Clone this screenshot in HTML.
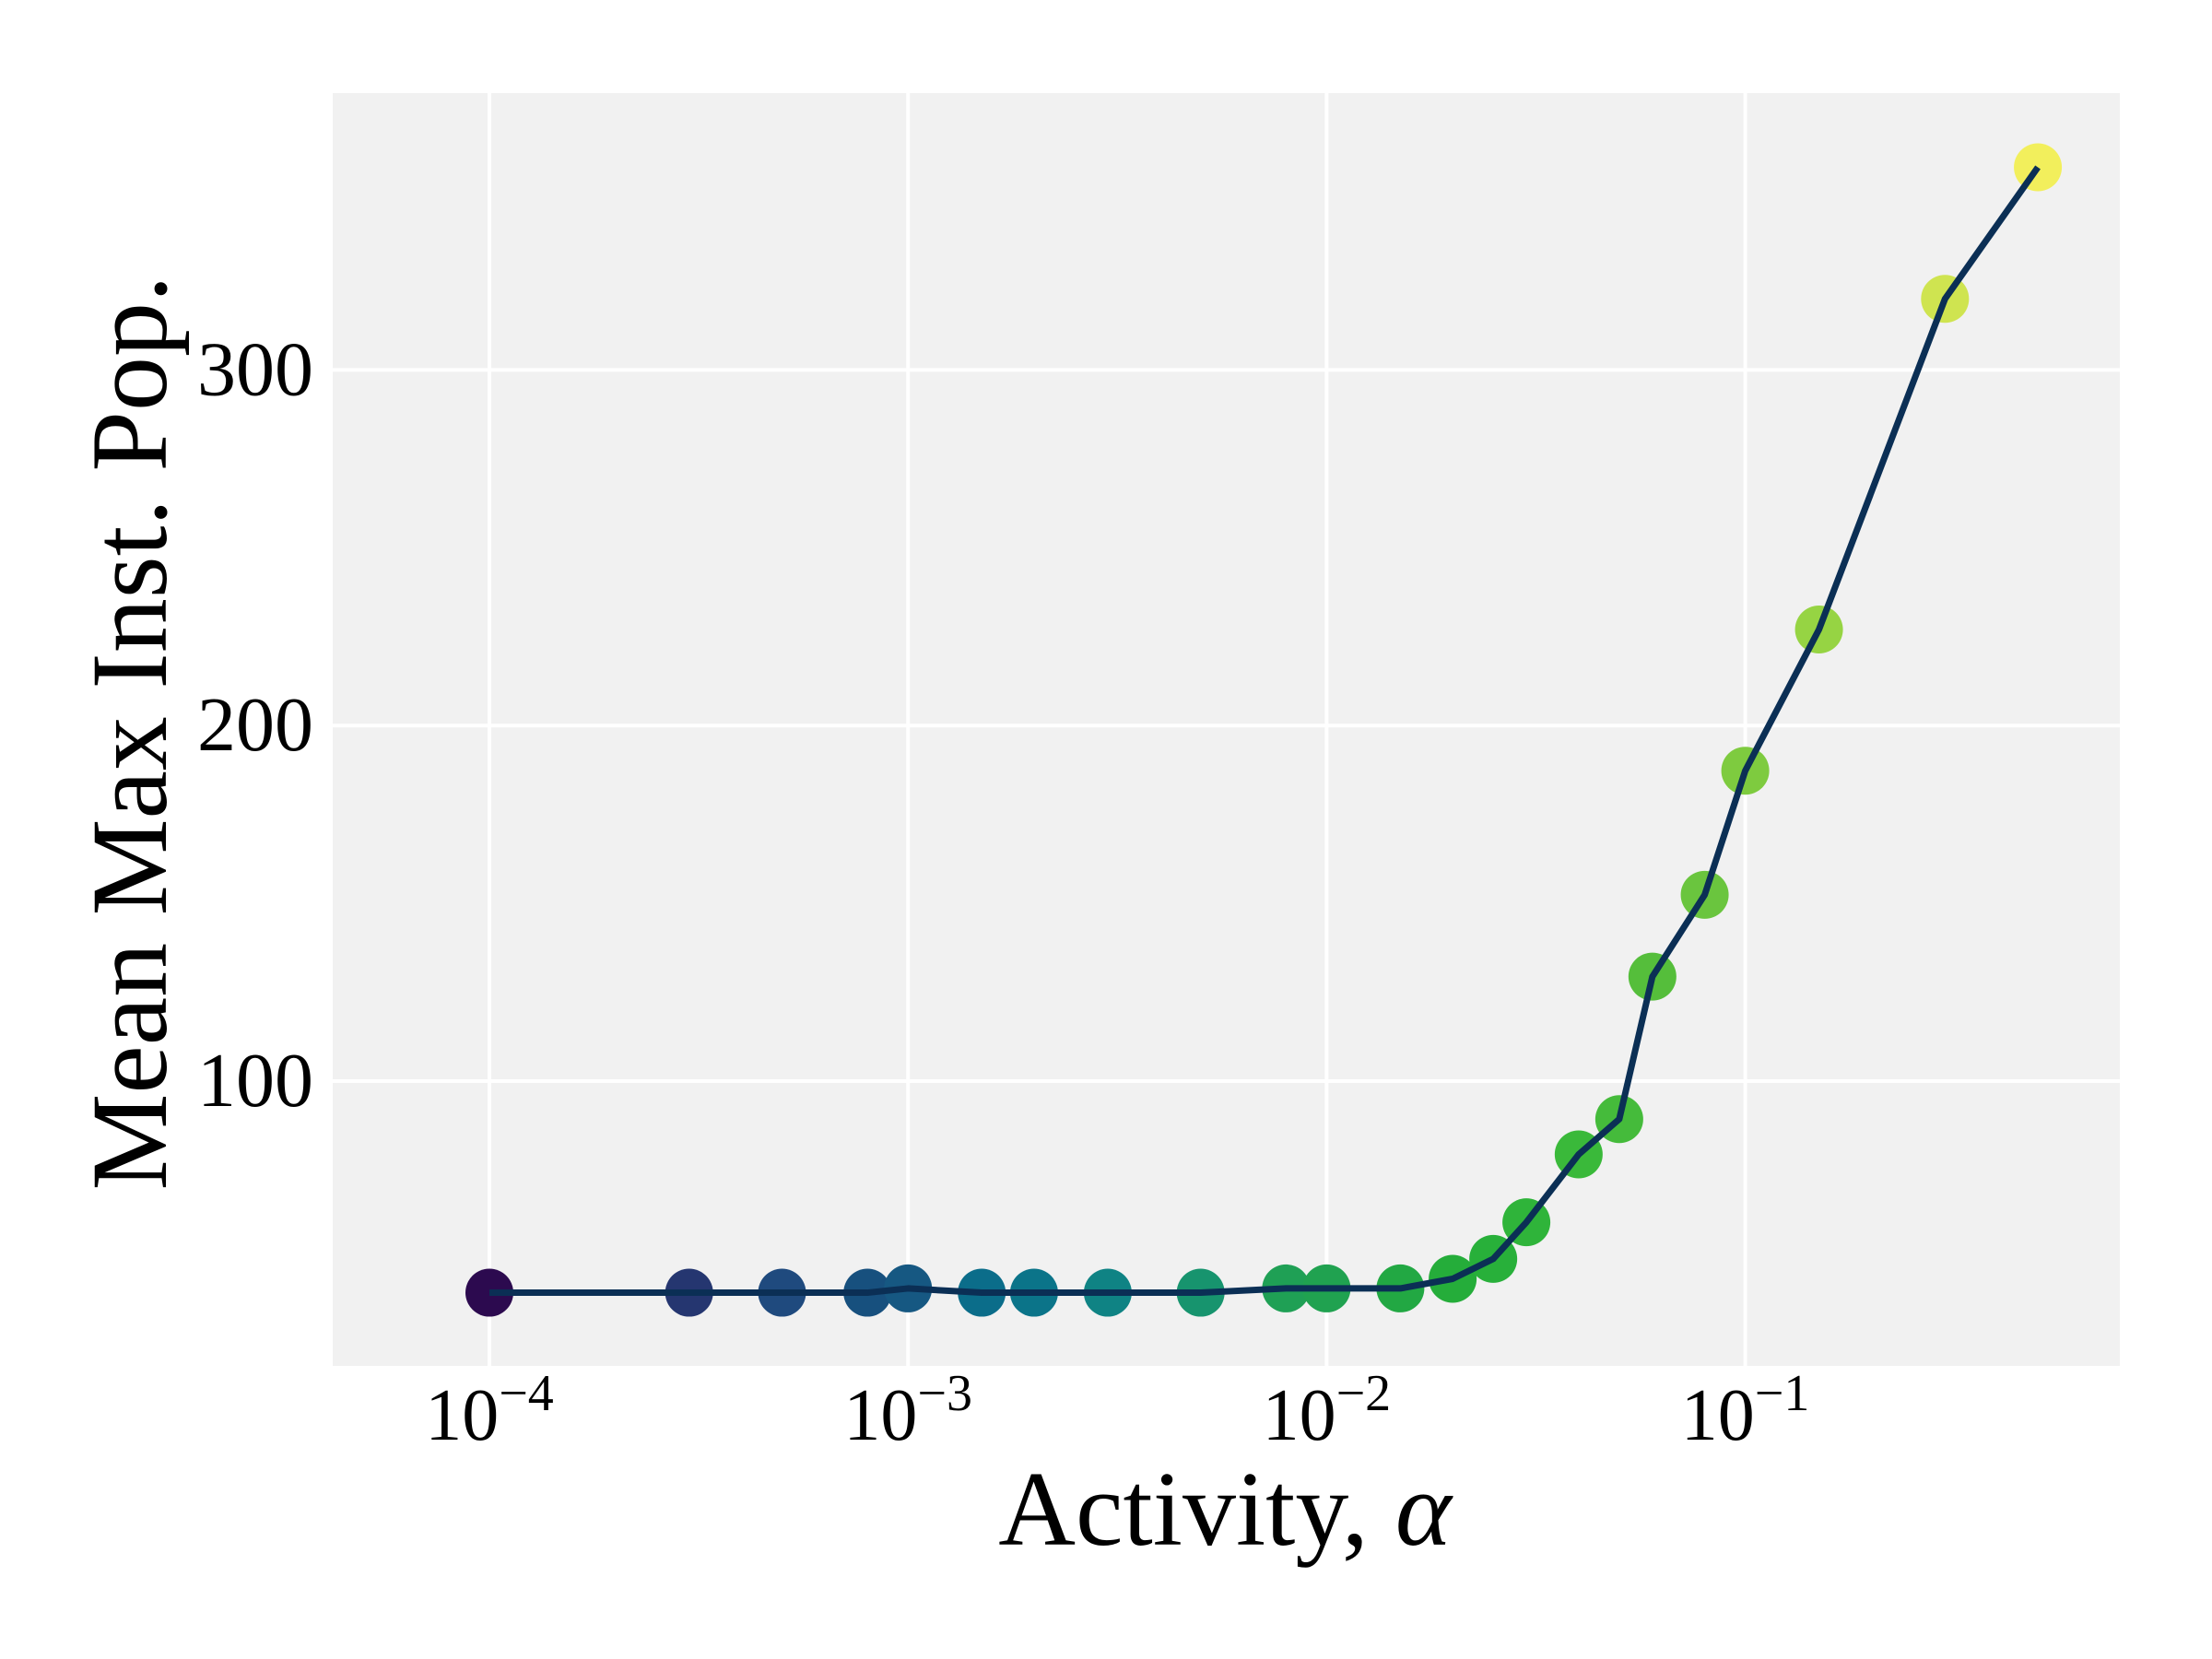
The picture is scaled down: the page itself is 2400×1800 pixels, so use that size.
<!DOCTYPE html>
<html><head><meta charset="utf-8"><style>
html,body{margin:0;padding:0;background:#fff;}
svg{display:block;}
text{font-family:"Liberation Serif",serif;fill:#000;}
</style></head><body>
<svg id="chart" width="2400" height="1800" viewBox="0 0 2400 1800" xmlns="http://www.w3.org/2000/svg">
<rect x="361" y="101" width="1939" height="1381" fill="#f1f1f1"/>
<g id="grid"></g>
<g id="ticks"></g>
<g id="series"></g>
<text x="1329" y="1676" font-size="116" text-anchor="middle">Activity, <tspan font-style="italic">α</tspan></text>
<text transform="translate(180,795) rotate(-90)" font-size="118" text-anchor="middle">Mean Max Inst. Pop.</text>
</svg>
<script>
const alphas=[1e-4,3e-4,5e-4,8e-4,1e-3,1.5e-3,2e-3,3e-3,5e-3,8e-3,1e-2,1.5e-2,2e-2,2.5e-2,3e-2,4e-2,5e-2,6e-2,8e-2,0.1,0.15,0.3,0.5];
const pops=[40.5,40.5,40.5,40.5,41.7,40.5,40.5,40.5,40.5,41.7,41.7,41.7,44.4,50,60.3,79.4,89.3,129.4,152.4,187.3,227,320,357];
const colors=["#2c0a4f","#253670","#1f4a7e","#17507e","#165882","#0b6d8a","#0b7489","#0f8384","#17946e","#1fa055","#20a250","#22a843","#25ad3a","#28b03a","#2fb43a","#3ab93a","#45bb3b","#55be3b","#6ac53e","#7ecb3f","#96d443","#cfe450","#f2ef5c"];
const xTicks=[-4,-3,-2,-1];
const yTicks=[100,200,300];
const NS="http://www.w3.org/2000/svg";
const X=a=>531+(Math.log10(a)+4)*454.2;
const Y=v=>1173-(v-100)*3.858;
function mk(tag,attrs,parent){const e=document.createElementNS(NS,tag);for(const k in attrs)e.setAttribute(k,attrs[k]);parent.appendChild(e);return e;}
const grid=document.getElementById('grid'),ticks=document.getElementById('ticks'),series=document.getElementById('series');
xTicks.forEach(p=>{
  const x=X(Math.pow(10,p));
  const l=mk('line',{x1:x,x2:x,y1:101,y2:1482,stroke:'#fff','stroke-width':4},grid);
  
  
  const t=mk('text',{x:x,y:1562,'font-size':80,'text-anchor':'middle'},ticks);
  
  
  t.innerHTML='10<tspan dy="-32" font-size="56">−'+(-p)+'</tspan>';
});
yTicks.forEach(v=>{
  const y=Y(v);
  const l=mk('line',{x1:361,x2:2300,y1:y,y2:y,stroke:'#fff','stroke-width':4},grid);
  
  
  const t=mk('text',{x:340,y:y+27,'font-size':84,'text-anchor':'end'},ticks);
  
  
  t.textContent=v;
});
alphas.forEach((a,i)=>{
  const c=mk('circle',{cx:X(a),cy:Y(pops[i]),r:26,fill:colors[i]},series);
  
  
});
const pl=mk('polyline',{points:alphas.map((a,i)=>X(a)+','+Y(pops[i])).join(' '),fill:'none',stroke:'#0b2f55','stroke-width':7,'stroke-linejoin':'round'},series);


</script>
</body></html>
